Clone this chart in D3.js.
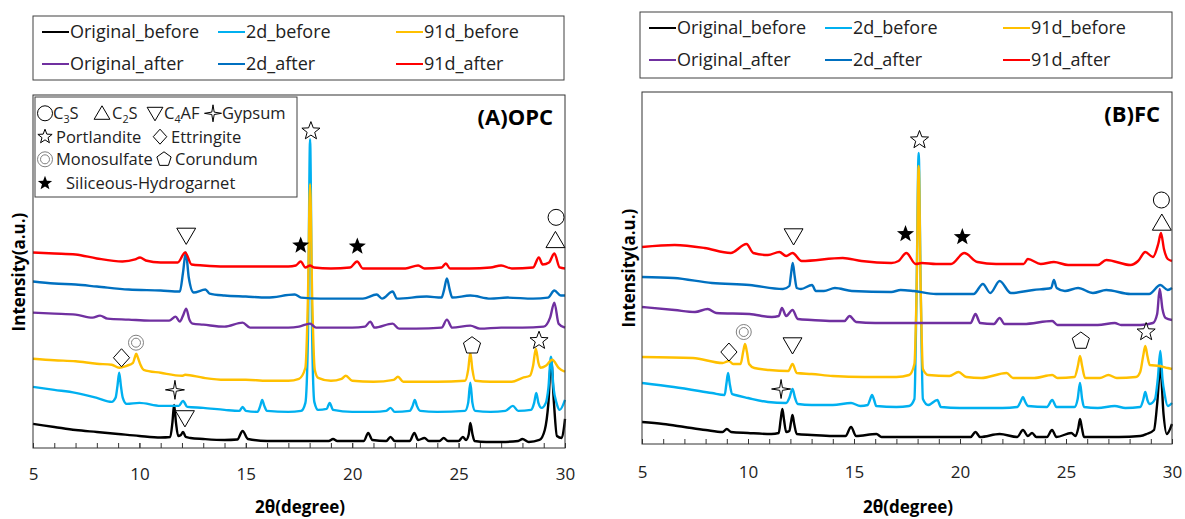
<!DOCTYPE html>
<html>
<head>
<meta charset="utf-8">
<script src="https://cdn.jsdelivr.net/npm/d3@7"></script>
<style>
  body { margin: 0; background: #fff; }
  text { font-family: "Open Sans", Lato, sans-serif; }
</style>
</head>
<body>
<svg width="1185" height="519"></svg>
<script>
var svg = d3.select('svg');

// series, same order and colours in both panels
const seriesNames = ["Original_before", "2d_before", "91d_before", "Original_after", "2d_after", "91d_after"];
const seriesColors = ["#000000", "#00B0F0", "#FFC000", "#7030A0", "#0070C0", "#FF0000"];

// x ticks (2theta, degree)
const majorTicks = [5, 10, 15, 20, 25, 30];
const minorTicks = d3.range(5, 31, 1);
const intensityMax = 352;

// ---- (A) OPC : [2theta, intensity (a.u., stacked)] ----
const opcOriginalBefore = [[5,24],[6,21],[7,18],[8,16],[9,14],[10,12],[11,10.5],[11.45,11],[11.55,25],[11.63,43],[11.72,25],[11.82,12],[11.95,13],[12.05,16],[12.18,11],[12.4,10],[13,9],[14,8],[14.6,8.5],[14.85,17],[15.1,9],[16,7],[17,7],[18,7],[18.9,7],[19.1,9],[19.3,7],[20,7],[20.55,7],[20.75,15],[20.95,8],[21.6,7],[21.8,11],[22,7],[22.7,7],[22.92,15],[23.1,8],[23.4,10],[23.6,7],[24.1,7],[24.3,10],[24.5,7],[25,7],[25.2,11],[25.35,8],[25.48,14],[25.55,25],[25.65,14],[25.75,7],[26.3,6],[27,6],[27.8,7],[28,9],[28.3,6],[28.8,8],[29.05,18],[29.22,45],[29.35,88],[29.48,45],[29.62,12],[29.85,10],[29.95,20],[30,29]];
const opc2dBefore = [[5,61],[6,58],[7,55],[8,50],[8.7,46],[8.88,50],[8.97,62],[9.05,75],[9.13,62],[9.22,50],[9.4,44],[10,45],[11,42],[11.85,42],[12.05,47],[12.25,41],[13,40],[14,38],[14.7,37],[14.85,41],[15,37],[15.55,36],[15.68,42],[15.77,48],[15.87,42],[16,37],[17,36],[17.6,37],[17.8,45],[17.92,110],[18.02,308],[18.12,110],[18.22,46],[18.4,38],[18.8,39],[18.94,45],[19.1,38],[20,36],[21,36],[21.6,37],[21.8,40],[22,36],[22.7,37],[22.84,42],[22.94,48],[23.04,42],[23.2,37],[24,36],[25.3,37],[25.45,45],[25.55,65],[25.65,45],[25.78,37],[26.5,36],[27.2,37],[27.55,42],[27.8,37],[28.4,38],[28.55,45],[28.65,55],[28.75,45],[28.9,40],[29.1,45],[29.22,60],[29.34,91],[29.46,60],[29.6,45],[29.75,38],[30,48]];
const opc91dBefore = [[5,89],[6,87.5],[7,86.5],[8,84],[8.7,83],[9.05,80],[9.4,82],[9.7,85],[9.78,90],[9.85,94],[9.93,90],[10.05,83],[10.2,78],[11,75],[12,72],[12.15,73],[13,70],[14,68],[15,68],[16,67],[17,67],[17.5,69],[17.8,80],[17.92,150],[18.02,263],[18.12,150],[18.24,78],[18.4,70],[19,67],[19.5,69],[19.7,72],[20,67],[21,66],[21.95,68],[22.15,71],[22.4,66],[23,66],[24,66],[25.3,67],[25.45,78],[25.55,95],[25.65,78],[25.78,67],[26.5,66],[27.5,66],[28,70],[28.35,72],[28.5,82],[28.63,99],[28.75,85],[28.85,80],[29.1,82],[29.4,88],[29.7,80],[30,76]];
const opcOriginalAfter = [[5,135],[6,134],[7,133],[7.8,130],[8.15,132],[8.5,129],[9.5,128],[10.5,127],[11.4,127],[11.7,131],[11.9,126],[12.05,132],[12.2,139],[12.35,128],[12.5,124],[13,123],[14,121],[14.85,125],[15.2,120],[16,120],[17,120],[17.5,121],[18.02,124],[18.3,120],[19,120],[20,120],[20.6,121],[20.85,126],[21.05,120],[21.9,124],[22.2,119],[23,119],[24.2,120],[24.45,128],[24.7,120],[25.55,122],[26,119],[27,120],[28,120],[29,121],[29.3,130],[29.5,145],[29.7,124],[30,120]];
const opc2dAfter = [[5,166],[6,164],[7,163],[8,161],[9.5,158],[11,157],[11.9,156],[12.05,175],[12.18,195],[12.32,170],[12.55,155],[13.1,158],[13.3,154],[14,152],[15,151],[16,150],[17.3,153],[17.6,150],[18.5,149],[19.5,149],[20.5,149],[21.15,153],[21.4,149],[21.9,156],[22.1,149],[23.5,151],[24.2,150],[24.32,158],[24.45,169],[24.58,158],[24.7,150],[25.55,152],[26.5,149],[27.3,150],[28.5,149],[29.2,150],[29.5,157],[29.8,152],[30,152]];
const opc91dAfter = [[5,195],[6,194],[7,193],[8,189],[9.2,186],[9.8,188],[10.03,190],[10.3,187],[11,185],[11.8,185],[12.15,195],[12.45,183],[13,182],[14,181],[15,181],[16,181],[17,181],[17.35,182],[17.58,186],[17.8,180],[18.02,182],[18.2,180],[19,179],[19.9,180],[20.23,186],[20.5,179],[21.5,179],[22.5,179],[23.1,182],[23.4,179],[24.2,180],[24.4,184],[24.6,179],[25.5,179],[26.5,180],[27,182],[27.5,179],[28.5,180],[28.77,190],[28.95,183],[29.25,185],[29.5,194],[29.75,180],[30,179]];

// ---- (B) FC ----
const fcOriginalBefore = [[5,22],[6,20],[7,17],[8,14],[8.8,12],[9,15],[9.2,12],[10,11],[11.1,10],[11.45,11],[11.54,24],[11.62,35],[11.7,24],[11.8,12],[11.95,13],[12.03,22],[12.1,29],[12.18,20],[12.3,10],[13,9],[14,8],[14.6,8],[14.86,17],[15.1,8],[16.06,10],[16.3,7],[17,7],[18,7],[19,7],[20,7],[20.5,7],[20.73,12],[20.95,7],[21.87,10],[22.7,7],[22.97,14],[23.2,8],[23.4,11],[23.6,7],[24.1,7],[24.34,14],[24.55,7],[25.25,11],[25.45,8],[25.58,16],[25.66,25],[25.75,16],[25.85,7],[26.5,7],[27.5,7],[28.5,8],[28.8,10],[29.15,14],[29.3,40],[29.45,77],[29.6,30],[29.75,10],[30,20]];
const fc2dBefore = [[5,61],[6.5,57],[8.3,51],[8.9,49],[8.98,60],[9.06,71],[9.14,60],[9.25,50],[9.4,49],[10,46],[10.94,42],[11.8,41],[11.95,46],[12.1,55],[12.22,46],[12.35,40],[13,39],[14,39],[14.86,41],[15.3,38],[15.65,39],[15.75,44],[15.85,49],[15.95,44],[16.05,38],[17,37],[17.6,38],[17.85,45],[17.95,150],[18.05,291],[18.15,150],[18.25,45],[18.5,39],[18.93,44],[19.1,37],[20,36],[21,36],[22,36],[22.7,37],[22.85,42],[22.97,47],[23.08,42],[23.2,38],[24.1,37],[24.35,44],[24.55,37],[25.4,37],[25.55,45],[25.66,61],[25.76,45],[25.85,37],[26.5,36],[27.3,38],[27.8,36],[28.5,37],[28.64,44],[28.74,52],[28.84,44],[28.95,40],[29.2,45],[29.33,65],[29.45,93],[29.55,65],[29.65,50],[29.8,38],[30,41]];
const fc91dBefore = [[5,87],[7.4,86],[8.8,81],[9.1,83],[9.3,80],[9.65,80],[9.77,92],[9.86,100],[9.95,92],[10.05,80],[10.3,76],[11,74],[11.9,73],[12.1,80],[12.3,71],[13,70],[14,68],[15.5,67],[17,67],[17.6,69],[17.85,80],[17.95,150],[18.05,278],[18.15,150],[18.25,75],[18.5,69],[19.5,68],[19.93,72],[20.3,67],[21,66],[22.2,71],[22.5,66],[23.5,66],[24.35,69],[24.6,66],[25.4,67],[25.56,78],[25.66,88],[25.76,78],[25.9,66],[26.6,66],[27,69],[27.4,66],[28.3,67],[28.5,72],[28.64,88],[28.74,98],[28.84,88],[28.95,79],[29.4,78],[29.8,76],[30,75]];
const fcOriginalAfter = [[5,137],[6.54,134],[7.5,132],[8.1,135],[8.5,131],[10.07,130],[11.12,127],[11.45,128],[11.6,136],[11.8,128],[12.1,134],[12.35,125],[13,124],[14,123],[14.55,123],[14.79,128],[15.1,122],[16,121],[17,121],[18,121],[19,121],[20.5,121],[20.73,130],[20.95,121],[21.6,120],[21.87,126],[22.1,120],[23,120],[24.35,123],[24.6,119],[25.5,119],[26.5,119],[27.3,121],[27.6,119],[28.5,119],[29.1,121],[29.3,130],[29.42,155],[29.55,135],[29.7,126],[30,124]];
const fc2dAfter = [[5,167],[6.5,166],[8.3,161],[10.07,159],[11.65,155],[11.95,158],[12.03,170],[12.11,181],[12.2,168],[12.3,156],[12.5,155],[13.02,159],[13.2,153],[13.58,153],[14.1,156],[14.9,153],[16.76,152],[17.2,154],[17.82,153],[18.87,150],[20.64,150],[21.08,160],[21.43,151],[21.87,163],[22.4,151],[23.46,154],[24.3,156],[24.43,164],[24.56,156],[24.95,153],[25.57,156],[26.27,151],[26.9,154],[28.04,150],[28.92,150],[29.45,159],[29.8,154],[30,156]];
const fc91dAfter = [[5,197],[6.54,199],[7.95,196],[9.18,191],[9.93,200],[10.25,191],[10.94,189],[11.48,192],[11.8,188],[12.1,191],[12.53,183],[14.47,186],[15.35,183],[16.76,181],[17.1,183],[17.47,191],[17.91,180],[18.2,181],[18.87,180],[19.58,180],[20.2,191],[20.82,182],[21.7,180],[23,180],[23.2,185],[23.81,180],[24.43,182],[25.1,179],[26.5,179],[26.9,184],[28.04,179],[28.4,183],[28.74,192],[29.1,187],[29.35,200],[29.48,211],[29.62,195],[29.8,185],[30,183]];

// phase markers: [symbol, 2theta, intensity]
const opcMarkers = [["star",18.06,316],["tri-down",12.2,212],["star-filled",17.58,202],["star-filled",20.24,201],["circle",29.58,230],["tri-up",29.55,207],["diamond",9.16,90],["ring",9.84,105],["pentagon",25.63,102],["star",28.78,107],["star4",11.67,58],["tri-down",12.14,30]];
const fcMarkers = [["star",18.09,304],["circle",29.5,244],["tri-up",29.52,221],["tri-down",12.15,208],["star-filled",17.43,210],["star-filled",20.11,207],["ring",9.8,112],["diamond",9.1,92],["tri-down",12.1,99],["pentagon",25.7,103],["star",28.78,112],["star4",11.56,55]];

// phase legend rows: [symbol, label] ("_n" = subscript)
const phaseLegendRows = [
    [["circle","C_3S"],["tri-up","C_2S"],["tri-down","C_4AF"],["star4","Gypsum"]],
    [["star","Portlandite"],["diamond","Ettringite"]],
    [["ring","Monosulfate"],["pentagon","Corundum"]],
    [["star-filled","Siliceous-Hydrogarnet"]]
];

// ---------------------------------------------------------------
function poly(pts) {
    return "M" + pts.map(p => p[0].toFixed(2) + "," + p[1].toFixed(2)).join("L") + "Z";
}
function radial(n, rOut, rIn) {
    var pts = [];
    var k = rIn ? n * 2 : n;
    for (var i = 0; i < k; i++) {
        var a = -Math.PI / 2 + i * 2 * Math.PI / k;
        var r = (rIn && i % 2) ? rIn : rOut;
        pts.push([r * Math.cos(a), r * Math.sin(a)]);
    }
    return pts;
}
function symbolPath(type, r) {
    var p = d3.path();
    switch (type) {
        case "circle":
            p.arc(0, 0, r, 0, 2 * Math.PI); return p.toString();
        case "ring":
            p.arc(0, 0, r, 0, 2 * Math.PI); p.moveTo(r * 0.6, 0); p.arc(0, 0, r * 0.6, 0, 2 * Math.PI);
            return p.toString();
        case "tri-up":
            return poly([[0, -r], [r * 1.05, r * 0.8], [-r * 1.05, r * 0.8]]);
        case "tri-down":
            return poly([[-r * 1.05, -r * 0.8], [r * 1.05, -r * 0.8], [0, r]]);
        case "diamond":
            return poly([[0, -r], [r * 0.9, 0], [0, r], [-r * 0.9, 0]]);
        case "pentagon":
            return poly(radial(5, r));
        case "star": case "star-filled":
            return poly(radial(5, r, r * 0.42));
        case "star4":
            return poly(radial(4, r, r * 0.2));
    }
}
function styleSymbol(sel, type) {
    sel.attr("fill", type === "star-filled" ? "#000" : "#fff")
        .attr("stroke", type === "ring" ? "#808080" : (type === "star-filled" ? "none" : "#000"))
        .attr("stroke-width", 1);
}
function addLabel(sel, label, size) {
    var parts = label.split(/_(\d)/);
    parts.forEach((s, i) => {
        if (!s) return;
        if (i % 2) {
            sel.append("tspan").attr("font-size", size * 0.65).attr("dy", size * 0.22).text(s);
        } else {
            sel.append("tspan").attr("dy", i > 0 ? -size * 0.22 : 0).text(s);
        }
    });
}

// ---------------------------------------------------------------
function drawPanel(cfg) {
    var x = d3.scaleLinear().domain([5, 30]).range([cfg.left, cfg.right]);
    var y = d3.scaleLinear().domain([0, intensityMax]).range([cfg.bottom, cfg.top]);
    var g = svg.append("g");

    // series legend on top
    var lg = g.append("g");
    lg.append("rect")
        .attr("x", cfg.legend[0]).attr("y", cfg.legend[1])
        .attr("width", cfg.legend[2] - cfg.legend[0]).attr("height", cfg.legend[3] - cfg.legend[1])
        .attr("fill", "#fff").attr("stroke", "#404040").attr("stroke-width", 1);
    seriesNames.forEach((name, i) => {
        var cx = cfg.legend[0] + [9, 185, 363][i % 3];
        var cy = cfg.legend[1] + 16 + Math.floor(i / 3) * 32;
        lg.append("line").attr("x1", cx).attr("x2", cx + 27).attr("y1", cy).attr("y2", cy)
            .attr("stroke", seriesColors[i]).attr("stroke-width", 2);
        lg.append("text").attr("x", cx + 28).attr("y", cy + 6)
            .style("font-size", "18px").attr("fill", "#222").text(name);
    });

    // curves
    var line = d3.line().x(d => x(d[0])).y(d => y(d[1])).curve(d3.curveMonotoneX);
    cfg.series.forEach((data, i) => {
        g.append("path").datum(data).attr("d", line)
            .attr("fill", "none").attr("stroke", seriesColors[i])
            .attr("stroke-width", 2.4).attr("stroke-linejoin", "round");
    });

    // frame
    g.append("rect").attr("x", cfg.left).attr("y", cfg.top)
        .attr("width", cfg.right - cfg.left).attr("height", cfg.bottom - cfg.top)
        .attr("fill", "none").attr("stroke", "#333").attr("stroke-width", 1);

    // x axis, ticks pointing inwards
    var minor = g.append("g").attr("transform", `translate(0,${cfg.bottom})`)
        .call(d3.axisBottom(x).tickValues(minorTicks).tickSize(-5).tickFormat(""));
    minor.select(".domain").remove();
    var major = g.append("g").attr("transform", `translate(0,${cfg.bottom})`)
        .call(d3.axisBottom(x).tickValues(majorTicks).tickSize(-5).tickPadding(cfg.tickPad).tickFormat(d3.format("d")));
    major.select(".domain").remove();
    major.selectAll("text").style("font-size", "17px").style("font-family", "'Open Sans', sans-serif").attr("fill", "#222");
    g.selectAll(".tick line").attr("stroke", "#333");

    g.append("text")
        .attr("x", (cfg.left + cfg.right) / 2 + cfg.xLabelShift).attr("y", 513)
        .attr("text-anchor", "middle").style("font-size", "17px").style("font-weight", "bold")
        .text("2θ(degree)");

    g.append("text")
        .attr("transform", `translate(${cfg.yLabelX},${cfg.yLabelY})rotate(-90)`)
        .attr("text-anchor", "middle").style("font-size", "17px").style("font-weight", "bold")
        .text("Intensity(a.u.)");

    g.append("text")
        .attr("x", cfg.right - 12).attr("y", cfg.top + 30)
        .attr("text-anchor", "end").style("font-size", "22px").style("font-weight", "bold")
        .text(cfg.tag);

    // phase markers
    cfg.markers.forEach(m => {
        var r = { "star4": 9.5, "circle": 8, "ring": 7.5, "star": 9.5, "star-filled": 9 }[m[0]] || 9;
        g.append("path")
            .attr("d", symbolPath(m[0], r))
            .attr("transform", `translate(${x(m[1])},${y(m[2])})`)
            .call(styleSymbol, m[0]);
    });
}

drawPanel({
    left: 33, right: 565, top: 95, bottom: 448, tickPad: 20,
    legend: [33, 16, 564, 80],
    yLabelX: 25, yLabelY: 272, xLabelShift: 1,
    tag: "(A)OPC",
    series: [opcOriginalBefore, opc2dBefore, opc91dBefore, opcOriginalAfter, opc2dAfter, opc91dAfter],
    markers: opcMarkers
});
drawPanel({
    left: 642, right: 1172, top: 92, bottom: 444, tickPad: 22,
    legend: [640, 12, 1172, 78],
    yLabelX: 635, yLabelY: 268, xLabelShift: 1,
    tag: "(B)FC",
    series: [fcOriginalBefore, fc2dBefore, fc91dBefore, fcOriginalAfter, fc2dAfter, fc91dAfter],
    markers: fcMarkers
});

// phase legend inside panel A
var pl = svg.append("g");
pl.append("rect").attr("x", 35).attr("y", 97).attr("width", 262).attr("height", 100)
    .attr("fill", "#fff").attr("stroke", "#404040").attr("stroke-width", 1);
var rowY = [113.3, 136.7, 159.3, 183.3];
var symX = [[45, 102, 155, 213], [45, 160], [45, 164], [45]];
var textX = [[53, 112, 164, 222], [56, 171], [56, 175], [66]];
phaseLegendRows.forEach((row, r) => {
    row.forEach((item, j) => {
        pl.append("path")
            .attr("d", symbolPath(item[0], item[0] === "star4" ? 8.5 : 7.5))
            .attr("transform", `translate(${symX[r][j]},${rowY[r]})`)
            .call(styleSymbol, item[0]);
        var t = pl.append("text").attr("x", textX[r][j]).attr("y", rowY[r] + 6)
            .style("font-size", "16.5px").attr("fill", "#222");
        addLabel(t, item[1], 16.5);
    });
});
</script>
</body>
</html>
